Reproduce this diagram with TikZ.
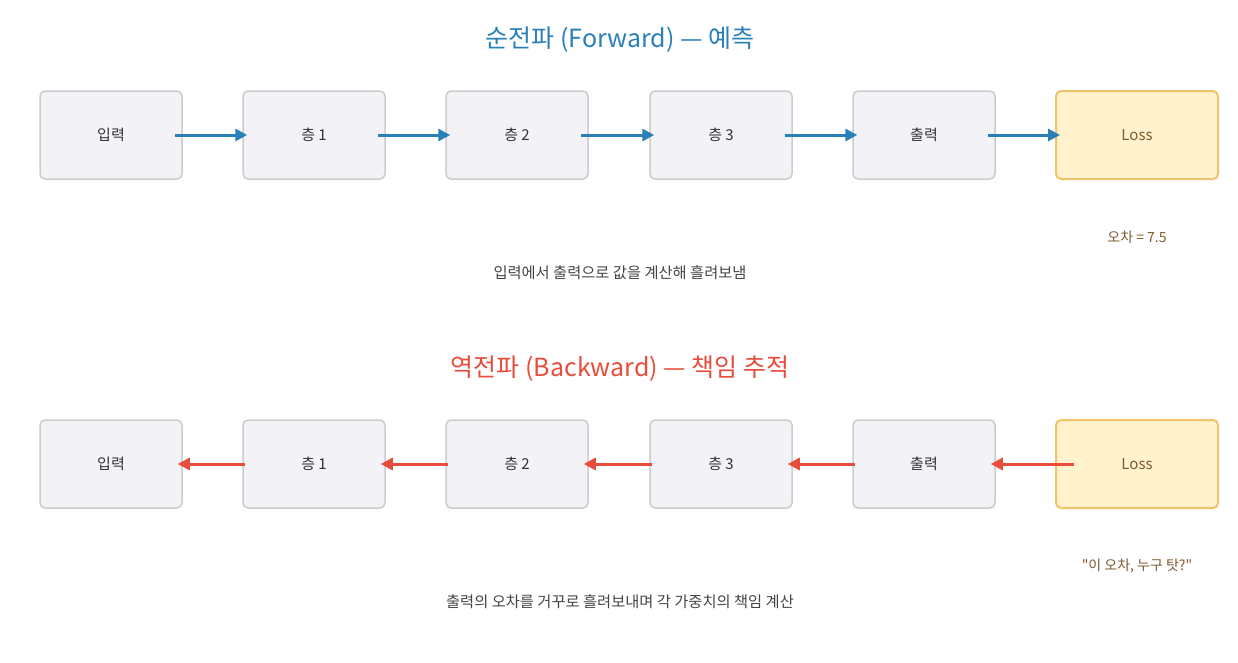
\documentclass[tikz,border=0pt]{standalone}
\usepackage{fontspec}
\setmainfont{Noto Sans CJK KR}
\newfontfamily\plainkr{Noto Sans CJK KR}
\usetikzlibrary{arrows.meta}
\definecolor{boxfill}{HTML}{F2F2F7}
\definecolor{boxline}{HTML}{CCCCCC}
\definecolor{lossfill}{HTML}{FFF2CC}
\definecolor{lossline}{HTML}{F0C46C}
\definecolor{fwd}{HTML}{2980B9}
\definecolor{bwd}{HTML}{E74C3C}
\definecolor{txt}{HTML}{333333}
\definecolor{brown}{HTML}{7A5C2E}
\definecolor{cap}{HTML}{444444}
\tikzset{
  layerbox/.style={draw=boxline, fill=boxfill, line width=1.5pt, rounded corners=5pt,
    minimum width=142pt, minimum height=88pt, inner sep=0pt, text=txt, font=\fontsize{15}{18}\selectfont},
  lossbox/.style={draw=lossline, fill=lossfill, line width=2pt, rounded corners=5pt,
    minimum width=162pt, minimum height=88pt, inner sep=0pt, text=brown, font=\fontsize{15}{18}\selectfont},
  fwdarrow/.style={draw=fwd, line width=3pt, -{Triangle[length=12pt,width=12pt]}, shorten <=-8pt, shorten >=-5pt},
  bwdarrow/.style={draw=bwd, line width=3pt, -{Triangle[length=12pt,width=12pt]}, shorten <=-3pt, shorten >=-5pt},
  titletext/.style={font=\fontsize{25}{30}\selectfont},
  captext/.style={text=cap, font=\fontsize{15.3}{18}\selectfont},
  notetext/.style={text=brown, font=\fontsize{14}{17}\selectfont},
}
\begin{document}
\begin{tikzpicture}[x=1pt,y=-1pt]
\useasboundingbox (0,0) rectangle (1238,662);
% forward row
\node[titletext, text=fwd] (t1) at (620,40) {순전파 (Forward) — 예측};
\node[layerbox] (a1) at (111,135) {입력};
\node[layerbox] (a2) at (314,135) {층 1};
\node[layerbox] (a3) at (517,135) {층 2};
\node[layerbox] (a4) at (721,135) {층 3};
\node[layerbox] (a5) at (924,135) {출력};
\node[lossbox] (a6) at (1137,135) {Loss};
\draw[fwdarrow] (a1) -- (a2);
\draw[fwdarrow] (a2) -- (a3);
\draw[fwdarrow] (a3) -- (a4);
\draw[fwdarrow] (a4) -- (a5);
\draw[fwdarrow] (a5) -- (a6);
\node[notetext] (n1) at (1137,237) {오차 = 7.5};
\node[captext] (c1) at (620,273) {입력에서 출력으로 값을 계산해 흘려보냄};
% backward row
\node[titletext, text=bwd] (t2) at (620,369) {역전파 (Backward) — 책임 추적};
\node[layerbox] (b1) at (111,464) {입력};
\node[layerbox] (b2) at (314,464) {층 1};
\node[layerbox] (b3) at (517,464) {층 2};
\node[layerbox] (b4) at (721,464) {층 3};
\node[layerbox] (b5) at (924,464) {출력};
\node[lossbox] (b6) at (1137,464) {Loss};
\draw[bwdarrow] (b2) -- (b1);
\draw[bwdarrow] (b3) -- (b2);
\draw[bwdarrow] (b4) -- (b3);
\draw[bwdarrow] (b5) -- (b4);
\draw[bwdarrow, shorten <=-19pt] (b6) -- (b5);
\node[notetext, font=\plainkr\fontsize{14}{17}\selectfont] (n2) at (1137,566) {"이 오차, 누구 탓?"};
\node[captext] (c2) at (620,602) {출력의 오차를 거꾸로 흘려보내며 각 가중치의 책임 계산};
\end{tikzpicture}
\end{document}
